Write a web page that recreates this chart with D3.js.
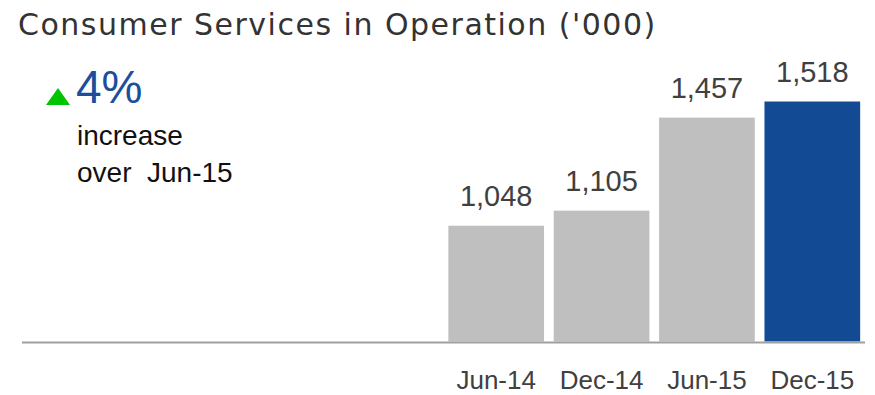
<!DOCTYPE html>
<html>
<head>
<meta charset="utf-8">
<script src="https://cdn.jsdelivr.net/npm/d3@7"></script>
<style>
    html, body { margin: 0; padding: 0; background: #fff; }
    svg { display: block; }
    text { font-family: "Liberation Sans", Arial, sans-serif; }
</style>
</head>
<body>
<svg id="chart" width="875" height="395"></svg>
<script>
"use strict";

const title = "Consumer Services in Operation ('000)";
const categories = ["Jun-14", "Dec-14", "Jun-15", "Dec-15"];
const services = [1048, 1105, 1457, 1518];
const barColors = ["#bfbfbf", "#bfbfbf", "#bfbfbf", "#124b93"];

function drawChart() {
    let svg = d3.select('#chart');

    // bars sit in the right half, axis spans the whole width
    let x = d3.scaleBand()
        .domain(categories)
        .range([443.5, 865])
        .paddingInner(0.092)
        .paddingOuter(0.046);

    let y = d3.scaleLinear()
        .domain([610, 1518])
        .range([341.5, 101.5]);

    svg.append('text')
        .attr('x', 18)
        .attr('y', 34.5)
        .attr('fill', '#333')
        .style('font-family', '"DejaVu Sans", sans-serif')
        .style('font-size', '30px')
        .style('letter-spacing', '1.5px')
        .text(title);

    svg.selectAll('.bar')
        .data(services)
        .enter()
        .append('rect')
        .classed('bar', true)
        .attr('x', (d, i) => x(categories[i]))
        .attr('y', d => y(d))
        .attr('width', x.bandwidth())
        .attr('height', d => y.range()[0] - y(d))
        .attr('fill', (d, i) => barColors[i]);

    svg.selectAll('.value-label')
        .data(services)
        .enter()
        .append('text')
        .classed('value-label', true)
        .attr('x', (d, i) => x(categories[i]) + x.bandwidth() / 2)
        .attr('y', d => y(d) - 20)
        .attr('text-anchor', 'middle')
        .attr('fill', '#404040')
        .style('font-size', '29px')
        .text(d3.format(','));

    // x axis: only the baseline and the labels
    let axis = svg.append('g')
        .attr('transform', 'translate(0,342.5)')
        .call(d3.axisBottom(x).tickSize(0));
    axis.select('.domain').remove();
    axis.selectAll('text')
        .attr('y', 46.5)
        .attr('dy', null)
        .attr('fill', '#404040')
        .style('font-size', '26px')
        .style('font-family', '"Liberation Sans", sans-serif');

    svg.append('line')
        .attr('x1', 22)
        .attr('x2', 865)
        .attr('y1', 342.5)
        .attr('y2', 342.5)
        .attr('stroke', '#a0a0a0')
        .attr('stroke-width', 1.8);

    // growth callout
    let last = services.length - 1;
    let pct = Math.round((services[last] - services[last - 1]) / services[last - 1] * 100);

    svg.append('path')
        .attr('d', d3.line()([[46, 105], [70, 105], [58, 88]]) + 'Z')
        .attr('fill', '#00c400');

    svg.append('text')
        .attr('x', 76)
        .attr('y', 103)
        .attr('fill', '#1b4f9b')
        .style('font-size', '46px')
        .text(pct + '%');

    svg.append('text')
        .attr('x', 77)
        .attr('y', 145)
        .attr('fill', '#111')
        .style('font-size', '28px')
        .text('increase');

    svg.append('text')
        .attr('x', 77)
        .attr('y', 182)
        .attr('fill', '#111')
        .style('font-size', '28px')
        .style('white-space', 'pre')
        .text('over  ' + categories[last - 1]);
}

drawChart();
</script>
</body>
</html>
